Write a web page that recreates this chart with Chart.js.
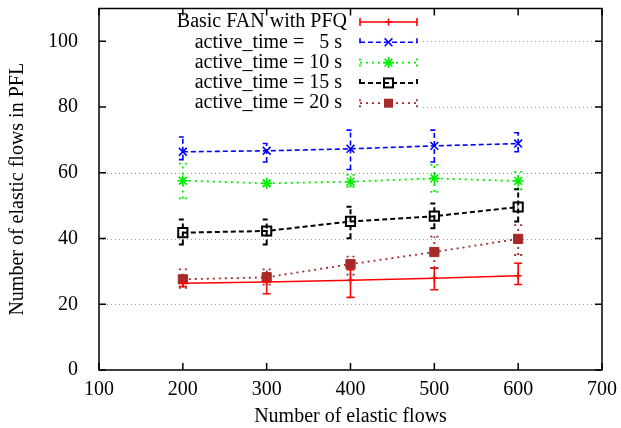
<!DOCTYPE html>
<html><head><meta charset="utf-8">
<script src="https://cdn.jsdelivr.net/npm/chart.js@4"></script>
<style>html,body{margin:0;padding:0;background:#fff}canvas{display:block}</style>
</head><body>
<canvas id="c" width="621" height="428"></canvas>
<script>
const flows = [200, 300, 400, 500, 600];
const xTicks = [100, 200, 300, 400, 500, 600, 700];
const yTicks = [0, 20, 40, 60, 80, 100];
const seriesLabels = ['Basic FAN with PFQ', 'active_time =   5 s', 'active_time = 10 s', 'active_time = 15 s', 'active_time = 20 s'];

const basicVals = [26.4, 26.8, 27.3, 27.9, 28.7];
const basicLow  = [25.4, 23.2, 22.1, 24.4, 26.0];
const basicHigh = [27.4, 29.5, 30.5, 31.0, 32.5];

const t5Vals = [66.4, 66.7, 67.3, 68.2, 68.9];
const t5Low  = [64.0, 63.3, 61.0, 63.3, 66.4];
const t5High = [70.9, 68.9, 73.0, 73.0, 72.2];

const t10Vals = [57.6, 56.8, 57.3, 58.3, 57.5];
const t10Low  = [52.2, 56.0, 55.7, 54.2, 55.0];
const t10High = [62.8, 57.6, 59.4, 62.4, 60.3];

const t15Vals = [41.8, 42.3, 45.2, 46.8, 49.6];
const t15Low  = [38.2, 38.2, 40.1, 43.1, 45.2];
const t15High = [45.8, 45.8, 49.7, 50.7, 55.0];

const t20Vals = [27.6, 28.2, 32.2, 35.9, 39.9];
const t20Low  = [25.0, 26.0, 29.0, 31.0, 35.0];
const t20High = [30.6, 30.6, 34.5, 40.6, 44.1];

const FONT = "'Liberation Serif', 'DejaVu Serif', serif";
const FS = 20;
const pts = vals => flows.map((x, i) => ({x: x, y: vals[i]}));

const datasets = [
  {label: seriesLabels[0], data: pts(basicVals), errLow: basicLow, errHigh: basicHigh,
   borderColor: '#ff0000', backgroundColor: '#ff0000', borderWidth: 1.6, borderDash: [],
   pointStyle: 'cross', pointRadius: 3.5, pointBorderWidth: 1.6, marker: 'plus'},
  {label: seriesLabels[1], data: pts(t5Vals), errLow: t5Low, errHigh: t5High,
   borderColor: '#0000ff', backgroundColor: '#0000ff', borderWidth: 1.6, borderDash: [5, 3],
   pointStyle: 'crossRot', pointRadius: 5.5, pointBorderWidth: 1.6, marker: 'x'},
  {label: seriesLabels[2], data: pts(t10Vals), errLow: t10Low, errHigh: t10High,
   borderColor: '#00ee00', backgroundColor: '#00ee00', borderWidth: 1.8, borderDash: [2, 4],
   pointStyle: 'star', pointRadius: 5.5, pointBorderWidth: 1.6, marker: 'star'},
  {label: seriesLabels[3], data: pts(t15Vals), errLow: t15Low, errHigh: t15High,
   borderColor: '#000000', backgroundColor: 'rgba(0,0,0,0)', borderWidth: 2, borderDash: [5, 3],
   pointStyle: 'rect', pointRadius: 6.5, pointBorderWidth: 2, marker: 'square'},
  {label: seriesLabels[4], data: pts(t20Vals), errLow: t20Low, errHigh: t20High,
   borderColor: '#a52a2a', backgroundColor: '#a52a2a', borderWidth: 1.8, borderDash: [2, 4],
   pointStyle: 'rect', pointRadius: 6.5, pointBorderWidth: 1, marker: 'fsquare'}
];

function drawMarker(ctx, kind, x, y, color) {
  ctx.save();
  ctx.setLineDash([]);
  ctx.strokeStyle = color; ctx.fillStyle = color;
  ctx.beginPath();
  if (kind === 'plus') {
    ctx.lineWidth = 1.6;
    ctx.moveTo(x - 3.5, y); ctx.lineTo(x + 3.5, y); ctx.moveTo(x, y - 3.5); ctx.lineTo(x, y + 3.5); ctx.stroke();
  } else if (kind === 'x') {
    ctx.lineWidth = 1.6; const s = 3.9;
    ctx.moveTo(x - s, y - s); ctx.lineTo(x + s, y + s); ctx.moveTo(x - s, y + s); ctx.lineTo(x + s, y - s); ctx.stroke();
  } else if (kind === 'star') {
    ctx.lineWidth = 1.6; const s = 3.9;
    ctx.moveTo(x - s, y - s); ctx.lineTo(x + s, y + s); ctx.moveTo(x - s, y + s); ctx.lineTo(x + s, y - s);
    ctx.moveTo(x - 5.5, y); ctx.lineTo(x + 5.5, y); ctx.moveTo(x, y - 5.5); ctx.lineTo(x, y + 5.5); ctx.stroke();
  } else if (kind === 'square') {
    ctx.lineWidth = 2; ctx.strokeRect(x - 4.5, y - 4.5, 9, 9);
  } else if (kind === 'fsquare') {
    ctx.fillRect(x - 4.5, y - 4.5, 9, 9);
  }
  ctx.restore();
}

const framePlugin = {
  id: 'framePlugin',
  beforeDatasetsDraw(chart) {
    const {ctx, chartArea: a, scales: {x, y}} = chart;
    ctx.save();
    ctx.strokeStyle = '#9a9a9a'; ctx.lineWidth = 1; ctx.setLineDash([1, 3]);
    yTicks.forEach(v => {
      if (v === 0) return;
      const py = Math.round(y.getPixelForValue(v)) + 0.5;
      ctx.beginPath(); ctx.moveTo(a.left, py); ctx.lineTo(a.right, py); ctx.stroke();
    });
    ctx.setLineDash([]);
    ctx.fillStyle = '#ffffff';
    ctx.fillRect(a.left, a.top, 420 - a.left, 113 - a.top);
    ctx.restore();
    chart.data.datasets.forEach(ds => {
      ctx.save();
      ctx.strokeStyle = ds.borderColor; ctx.lineWidth = ds.borderWidth;
      ctx.setLineDash(ds.borderDash || []);
      ds.data.forEach((p, j) => {
        const px = x.getPixelForValue(p.x);
        const pl = y.getPixelForValue(ds.errLow[j]);
        const ph = y.getPixelForValue(ds.errHigh[j]);
        ctx.beginPath();
        ctx.moveTo(px, pl); ctx.lineTo(px, ph);
        ctx.moveTo(px - 4, pl); ctx.lineTo(px + 4, pl);
        ctx.moveTo(px - 4, ph); ctx.lineTo(px + 4, ph);
        ctx.stroke();
      });
      ctx.restore();
    });
  },
  afterDatasetsDraw(chart) {
    const {ctx, chartArea: a, scales: {x, y}} = chart;
    ctx.save();
    ctx.strokeStyle = '#000'; ctx.lineWidth = 1.5; ctx.setLineDash([]);
    ctx.strokeRect(a.left, a.top, a.right - a.left, a.bottom - a.top);
    const tl = 7;
    ctx.beginPath();
    xTicks.forEach(v => {
      const px = x.getPixelForValue(v);
      ctx.moveTo(px, a.bottom); ctx.lineTo(px, a.bottom - tl);
      ctx.moveTo(px, a.top); ctx.lineTo(px, a.top + tl);
    });
    yTicks.forEach(v => {
      const py = y.getPixelForValue(v);
      ctx.moveTo(a.left, py); ctx.lineTo(a.left + tl, py);
      ctx.moveTo(a.right, py); ctx.lineTo(a.right - tl, py);
    });
    ctx.stroke();
    ctx.restore();
  },
  afterDraw(chart) {
    const {ctx} = chart;
    ctx.save();
    ctx.font = FS + "px " + FONT;
    ctx.fillStyle = '#000';
    ctx.textAlign = 'right'; ctx.textBaseline = 'middle';
    chart.data.datasets.forEach((ds, i) => {
      const ly = 22 + i * 20.3;
      ctx.fillText(ds.label, i === 0 ? 347 : 342, ly);
      ctx.save();
      ctx.strokeStyle = ds.borderColor; ctx.lineWidth = ds.borderWidth;
      ctx.setLineDash(ds.borderDash || []);
      ctx.beginPath();
      ctx.moveTo(360, ly); ctx.lineTo(417, ly);
      ctx.moveTo(360, ly - 4); ctx.lineTo(360, ly + 4);
      ctx.moveTo(417, ly - 4); ctx.lineTo(417, ly + 4);
      ctx.stroke();
      ctx.restore();
      drawMarker(ctx, ds.marker, 388.5, ly, ds.borderColor);
    });
    ctx.restore();
  }
};

new Chart(document.getElementById('c'), {
  type: 'line',
  data: {datasets: datasets},
  options: {
    responsive: false,
    animation: false,
    events: [],
    layout: {padding: {left: 0, right: 19, top: 7, bottom: 0}},
    plugins: {legend: {display: false}, tooltip: {enabled: false}},
    elements: {line: {tension: 0}},
    scales: {
      x: {
        type: 'linear', min: 100, max: 700,
        afterBuildTicks: s => { s.ticks = xTicks.map(v => ({value: v})); },
        afterFit: s => { s.height = 58; s.paddingLeft = 0; s.paddingRight = 0; },
        grid: {display: false}, border: {display: false},
        ticks: {color: '#000', font: {family: FONT, size: FS}, padding: 0, maxRotation: 0},
        title: {display: true, text: 'Number of elastic flows', color: '#000',
                font: {family: FONT, size: FS, lineHeight: 1.1}, padding: {top: 0, bottom: 0}}
      },
      y: {
        type: 'linear', min: 0, max: 110,
        afterBuildTicks: s => { s.ticks = yTicks.map(v => ({value: v})); },
        afterFit: s => { s.width = 99; s.paddingTop = 0; s.paddingBottom = 0; },
        grid: {display: false}, border: {display: false},
        ticks: {color: '#000', font: {family: FONT, size: FS}, padding: 13},
        title: {display: true, text: 'Number of elastic flows in PFL', color: '#000',
                font: {family: FONT, size: FS}, padding: {top: 6, bottom: 0}}
      }
    }
  },
  plugins: [framePlugin]
});
</script>
</body></html>
